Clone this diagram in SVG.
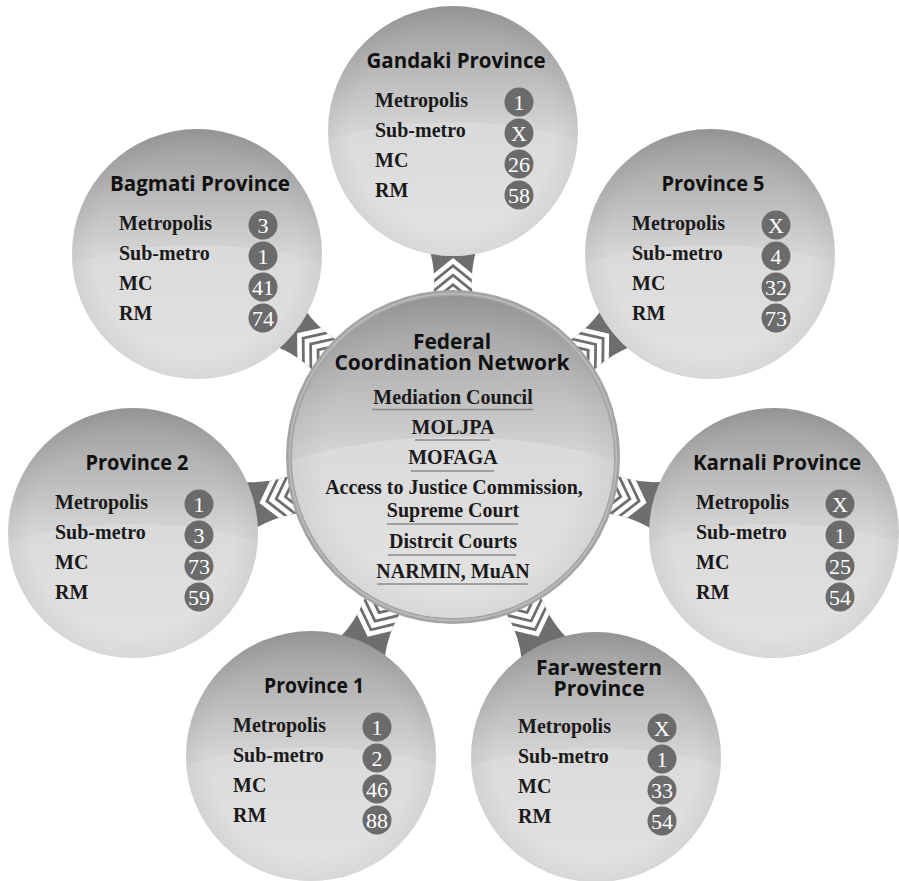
<svg xmlns="http://www.w3.org/2000/svg" xmlns:xlink="http://www.w3.org/1999/xlink" width="899" height="881" viewBox="0 0 899 881">
<style>
.t{font-family:"Open Sans","Noto Sans",sans-serif;font-weight:700;font-size:21px;text-anchor:middle;fill:#111}
.l{font-family:"Liberation Serif","Times New Roman",serif;font-weight:700;font-size:20px;fill:#1a1a1a}
.c{font-family:"Liberation Serif","Times New Roman",serif;font-weight:700;font-size:20px;fill:#1a1a1a;text-anchor:middle}
.b{fill:#6b6b6b}
.n{font-family:"Liberation Serif","Times New Roman",serif;font-size:22px;fill:#fff;text-anchor:middle}
.u{stroke:#8a8a8a;stroke-width:1.5}
</style>
<defs>
<linearGradient id="gTop" x1="0" y1="0" x2="0" y2="1">
<stop offset="0" stop-color="#9b9b9b"/>
<stop offset="0.5" stop-color="#d5d5d5"/>
<stop offset="1" stop-color="#d9d9d9"/>
</linearGradient>
<linearGradient id="gLow" x1="0" y1="0" x2="0" y2="1">
<stop offset="0" stop-color="#dadada"/>
<stop offset="0.5" stop-color="#e3e3e3"/>
<stop offset="1" stop-color="#e6e6e6"/>
</linearGradient>
<radialGradient id="gVig" cx="0.5" cy="0.5" r="0.5">
<stop offset="0.8" stop-color="#000" stop-opacity="0"/>
<stop offset="1" stop-color="#000" stop-opacity="0.05"/>
</radialGradient>
<clipPath id="clipSat" clipPathUnits="userSpaceOnUse"><circle cx="0" cy="0" r="125"/></clipPath>
<clipPath id="clipCen" clipPathUnits="userSpaceOnUse"><circle cx="0" cy="0" r="161"/></clipPath>
<clipPath id="clipConn" clipPathUnits="userSpaceOnUse"><path d="M150,-21 Q184,-15 212,-25 L212,25 Q184,15 150,21 Z"/></clipPath>
<g id="sat">
<circle cx="0" cy="0" r="125" fill="url(#gTop)"/>
<ellipse cx="0" cy="125" rx="250" ry="134" fill="url(#gLow)" clip-path="url(#clipSat)"/>
<circle cx="0" cy="0" r="125" fill="url(#gVig)"/>
</g>
<g id="conn">
<path d="M150,-21 Q184,-15 212,-25 L212,25 Q184,15 150,21 Z" fill="#6e6e6e"/>
<g clip-path="url(#clipConn)" fill="none" stroke="#fff" stroke-width="4.6">
<polyline points="179,-21 196,0 179,21"/>
<polyline points="169.5,-21 186.5,0 169.5,21"/>
<polyline points="160,-21 177,0 160,21"/>
<polyline points="150.5,-21 167.5,0 150.5,21"/>
</g>
</g>
</defs>
<rect width="899" height="881" fill="#fff"/>

<g id="connectors">
<use xlink:href="#conn" href="#conn" transform="translate(453,457) rotate(-90)"/>
<use xlink:href="#conn" href="#conn" transform="translate(453,457) rotate(-38.3)"/>
<use xlink:href="#conn" href="#conn" transform="translate(453,457) rotate(13.32)"/>
<use xlink:href="#conn" href="#conn" transform="translate(453,457) rotate(64.52)"/>
<use xlink:href="#conn" href="#conn" transform="translate(453,457) rotate(115.4)"/>
<use xlink:href="#conn" href="#conn" transform="translate(453,457) rotate(166.64)"/>
<use xlink:href="#conn" href="#conn" transform="translate(453,457) rotate(-141.58)"/>
</g>

<g id="gandaki" transform="translate(453,131)">
<use xlink:href="#sat" href="#sat"/>
<text class="t" x="3" y="-63" textLength="179" lengthAdjust="spacingAndGlyphs">Gandaki Province</text>
<text class="l" x="-78" y="-24">Metropolis</text>
<text class="l" x="-78" y="6">Sub-metro</text>
<text class="l" x="-78" y="36">MC</text>
<text class="l" x="-78" y="66">RM</text>
<circle class="b" cx="66" cy="-29" r="14.5"/><text class="n" x="66" y="-21.5">1</text>
<circle class="b" cx="66" cy="2" r="14.5"/><text class="n" x="66" y="9.5">X</text>
<circle class="b" cx="66" cy="33" r="14.5"/><text class="n" x="66" y="40.5">26</text>
<circle class="b" cx="66" cy="64" r="14.5"/><text class="n" x="66" y="71.5">58</text>
</g>

<g id="province5" transform="translate(710,254)">
<use xlink:href="#sat" href="#sat"/>
<text class="t" x="3" y="-63" textLength="103" lengthAdjust="spacingAndGlyphs">Province 5</text>
<text class="l" x="-78" y="-24">Metropolis</text>
<text class="l" x="-78" y="6">Sub-metro</text>
<text class="l" x="-78" y="36">MC</text>
<text class="l" x="-78" y="66">RM</text>
<circle class="b" cx="66" cy="-29" r="14.5"/><text class="n" x="66" y="-21.5">X</text>
<circle class="b" cx="66" cy="2" r="14.5"/><text class="n" x="66" y="9.5">4</text>
<circle class="b" cx="66" cy="33" r="14.5"/><text class="n" x="66" y="40.5">32</text>
<circle class="b" cx="66" cy="64" r="14.5"/><text class="n" x="66" y="71.5">73</text>
</g>

<g id="karnali" transform="translate(774,533)">
<use xlink:href="#sat" href="#sat"/>
<text class="t" x="3" y="-63" textLength="168" lengthAdjust="spacingAndGlyphs">Karnali Province</text>
<text class="l" x="-78" y="-24">Metropolis</text>
<text class="l" x="-78" y="6">Sub-metro</text>
<text class="l" x="-78" y="36">MC</text>
<text class="l" x="-78" y="66">RM</text>
<circle class="b" cx="66" cy="-29" r="14.5"/><text class="n" x="66" y="-21.5">X</text>
<circle class="b" cx="66" cy="2" r="14.5"/><text class="n" x="66" y="9.5">1</text>
<circle class="b" cx="66" cy="33" r="14.5"/><text class="n" x="66" y="40.5">25</text>
<circle class="b" cx="66" cy="64" r="14.5"/><text class="n" x="66" y="71.5">54</text>
</g>

<g id="farwestern" transform="translate(596,757)">
<use xlink:href="#sat" href="#sat"/>
<text class="t"><tspan x="3" y="-82">Far-western</tspan><tspan x="3" y="-61">Province</tspan></text>
<text class="l" x="-78" y="-24">Metropolis</text>
<text class="l" x="-78" y="6">Sub-metro</text>
<text class="l" x="-78" y="36">MC</text>
<text class="l" x="-78" y="66">RM</text>
<circle class="b" cx="66" cy="-29" r="14.5"/><text class="n" x="66" y="-21.5">X</text>
<circle class="b" cx="66" cy="2" r="14.5"/><text class="n" x="66" y="9.5">1</text>
<circle class="b" cx="66" cy="33" r="14.5"/><text class="n" x="66" y="40.5">33</text>
<circle class="b" cx="66" cy="64" r="14.5"/><text class="n" x="66" y="71.5">54</text>
</g>

<g id="province1" transform="translate(311,756)">
<use xlink:href="#sat" href="#sat"/>
<text class="t" x="3" y="-63" textLength="100" lengthAdjust="spacingAndGlyphs">Province 1</text>
<text class="l" x="-78" y="-24">Metropolis</text>
<text class="l" x="-78" y="6">Sub-metro</text>
<text class="l" x="-78" y="36">MC</text>
<text class="l" x="-78" y="66">RM</text>
<circle class="b" cx="66" cy="-29" r="14.5"/><text class="n" x="66" y="-21.5">1</text>
<circle class="b" cx="66" cy="2" r="14.5"/><text class="n" x="66" y="9.5">2</text>
<circle class="b" cx="66" cy="33" r="14.5"/><text class="n" x="66" y="40.5">46</text>
<circle class="b" cx="66" cy="64" r="14.5"/><text class="n" x="66" y="71.5">88</text>
</g>

<g id="province2" transform="translate(133,533)">
<use xlink:href="#sat" href="#sat"/>
<text class="t" x="4" y="-63" textLength="103" lengthAdjust="spacingAndGlyphs">Province 2</text>
<text class="l" x="-78" y="-24">Metropolis</text>
<text class="l" x="-78" y="6">Sub-metro</text>
<text class="l" x="-78" y="36">MC</text>
<text class="l" x="-78" y="66">RM</text>
<circle class="b" cx="66" cy="-29" r="14.5"/><text class="n" x="66" y="-21.5">1</text>
<circle class="b" cx="66" cy="2" r="14.5"/><text class="n" x="66" y="9.5">3</text>
<circle class="b" cx="66" cy="33" r="14.5"/><text class="n" x="66" y="40.5">73</text>
<circle class="b" cx="66" cy="64" r="14.5"/><text class="n" x="66" y="71.5">59</text>
</g>

<g id="bagmati" transform="translate(197,254)">
<use xlink:href="#sat" href="#sat"/>
<text class="t" x="3" y="-63" textLength="180" lengthAdjust="spacingAndGlyphs">Bagmati Province</text>
<text class="l" x="-78" y="-24">Metropolis</text>
<text class="l" x="-78" y="6">Sub-metro</text>
<text class="l" x="-78" y="36">MC</text>
<text class="l" x="-78" y="66">RM</text>
<circle class="b" cx="66" cy="-29" r="14.5"/><text class="n" x="66" y="-21.5">3</text>
<circle class="b" cx="66" cy="2" r="14.5"/><text class="n" x="66" y="9.5">1</text>
<circle class="b" cx="66" cy="33" r="14.5"/><text class="n" x="66" y="40.5">41</text>
<circle class="b" cx="66" cy="64" r="14.5"/><text class="n" x="66" y="71.5">74</text>
</g>

<g id="federal" transform="translate(453,457)">
<circle cx="0" cy="0" r="167" fill="#a4a4a4"/>
<circle cx="0" cy="0" r="163.5" fill="none" stroke="#bdbdbd" stroke-width="1.5"/>
<circle cx="0" cy="0" r="161" fill="url(#gTop)"/>
<ellipse cx="0" cy="150" rx="320" ry="170" fill="url(#gLow)" clip-path="url(#clipCen)"/>
<circle cx="0" cy="0" r="161" fill="url(#gVig)"/>
<text class="t" font-size="21.5"><tspan x="-1" y="-108">Federal</tspan><tspan x="-1" y="-87">Coordination Network</tspan></text>
<text class="c" x="0" y="-53">Mediation Council</text>
<line class="u" x1="-81" y1="-47.5" x2="80" y2="-47.5"/>
<text class="c" x="0" y="-23">MOLJPA</text>
<line class="u" x1="-38" y1="-17" x2="37" y2="-17"/>
<text class="c" x="0" y="7">MOFAGA</text>
<line class="u" x1="-42" y1="14" x2="41" y2="14"/>
<text class="c" x="1" y="37"><tspan x="1" y="37">Access to Justice Commission,</tspan><tspan x="0" y="60">Supreme Court</tspan></text>
<line class="u" x1="-66" y1="67" x2="65" y2="67"/>
<text class="c" x="0" y="91">Distrcit Courts</text>
<line class="u" x1="-65" y1="98" x2="63" y2="98"/>
<text class="c" x="0" y="121">NARMIN, MuAN</text>
<line class="u" x1="-76" y1="127" x2="75" y2="127"/>
</g>
</svg>
